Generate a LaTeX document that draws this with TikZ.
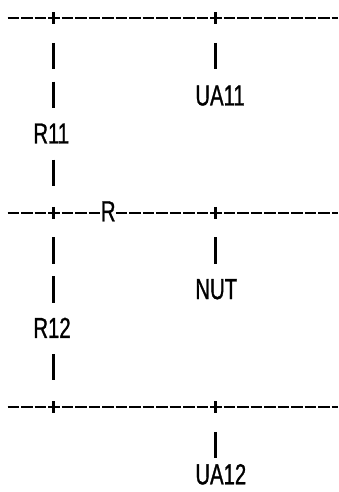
\documentclass[tikz,border=0pt]{standalone}
\usepackage{fontspec}
\newfontfamily\gothic[FakeStretch=0.7,FakeBold=1]{Liberation Sans}
\tikzset{
    dashrow/.style = {line width=2.1pt,
      dash pattern=on 11.7pt off 1.8pt}
  }
\tikzset{
    barmark/.style = {line width=2.1pt}
  }
\tikzset{
    chartext/.style = {inner sep=0pt, anchor=base west,
      font=\gothic\fontsize{29}{29}\selectfont}
  }
\begin{document}
\begin{tikzpicture}[x=13.5pt, y=-38.9pt]
\useasboundingbox (-0.459,-0.470) rectangle (24.578,12.177);

\coordinate (top_start) at (0.1,0);
\coordinate (top_end) at (24.6,0);
\coordinate (mid_start) at (0.1,5);
\coordinate (mid_end) at (24.6,5);
\coordinate (low_start) at (0.1,10);
\coordinate (low_end) at (24.6,10);

\coordinate (top_l) at (3.5,0);
\coordinate (top_r) at (15.5,0);
\coordinate (mid_l) at (3.5,5);
\coordinate (mid_r) at (15.5,5);
\coordinate (low_l) at (3.5,10);
\coordinate (low_r) at (15.5,10);

\node[chartext] at (14,2.24) (ua11) {UA11};
\node[chartext] at (2,3.218) (r11) {R11};
\node[chartext] at (7,5.218) (r) {R};
\node[chartext] at (14,7.218) (nut) {NUT};
\node[chartext] at (2,8.218) (r12) {R12};
\node[chartext] at (14,11.98) (ua12) {UA12};

\draw[dashrow] (top_start) -- (top_end);
\draw[dashrow] (mid_start) -- (r.west |- mid_start);
\draw[dashrow] (r.east |- mid_start) -- (mid_end);
\draw[dashrow] (low_start) -- (low_end);

\draw[barmark] ([yshift=6pt]top_l) -- ([yshift=-6pt]top_l);
\draw[barmark] ([yshift=6pt]top_r) -- ([yshift=-6pt]top_r);
\draw[barmark] ([yshift=6pt]mid_l) -- ([yshift=-6pt]mid_l);
\draw[barmark] ([yshift=6pt]mid_r) -- ([yshift=-6pt]mid_r);
\draw[barmark] ([yshift=6pt]low_l) -- ([yshift=-6pt]low_l);
\draw[barmark] ([yshift=6pt]low_r) -- ([yshift=-6pt]low_r);

\draw[barmark] (3.5,0.63) -- (3.5,1.31);
\draw[barmark] (3.5,1.63) -- (3.5,2.31);
\draw[barmark] (3.5,3.63) -- (3.5,4.31);
\draw[barmark] (3.5,5.63) -- (3.5,6.31);
\draw[barmark] (3.5,6.63) -- (3.5,7.31);
\draw[barmark] (3.5,8.63) -- (3.5,9.31);
\draw[barmark] (15.5,0.63) -- (15.5,1.31);
\draw[barmark] (15.5,5.63) -- (15.5,6.31);
\draw[barmark] (15.5,10.63) -- (15.5,11.31);

\end{tikzpicture}
\end{document}
